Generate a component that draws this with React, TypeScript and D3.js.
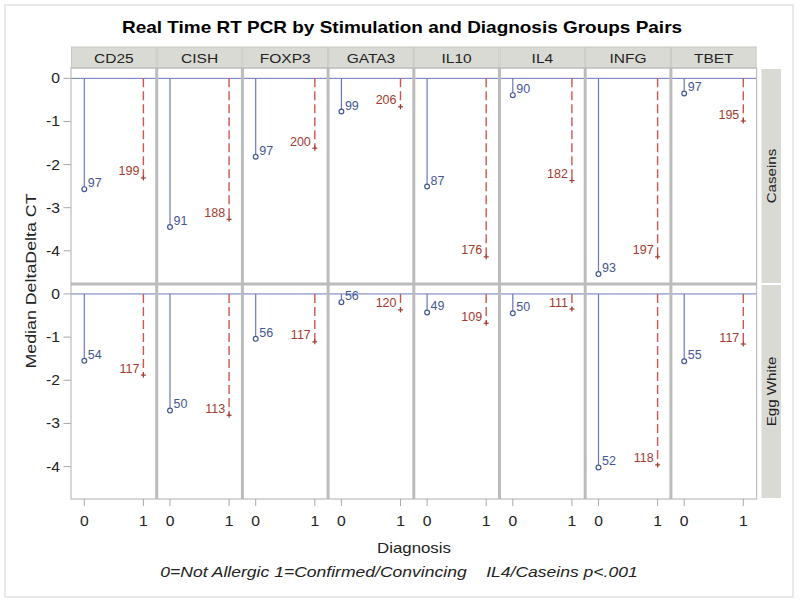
import React from "react";
import * as d3 from "d3";

const genes = ["CD25", "CISH", "FOXP3", "GATA3", "IL10", "IL4", "INFG", "TBET"];
const stimulations = ["Caseins", "Egg White"];
const caseinsNotAllergic = [-2.57, -3.45, -1.82, -0.77, -2.51, -0.39, -4.54, -0.35];
const caseinsAllergic = [-2.31, -3.27, -1.62, -0.66, -4.14, -2.37, -4.14, -0.99];
const caseinsN0 = [97, 91, 97, 99, 87, 90, 93, 97];
const caseinsN1 = [199, 188, 200, 206, 176, 182, 197, 195];
const eggNotAllergic = [-1.55, -2.7, -1.04, -0.19, -0.43, -0.45, -4.02, -1.56];
const eggAllergic = [-1.88, -2.81, -1.11, -0.37, -0.68, -0.35, -3.96, -1.16];
const eggN0 = [54, 50, 56, 56, 49, 50, 52, 55];
const eggN1 = [117, 113, 117, 120, 109, 111, 118, 117];
const yTicks = [0, -1, -2, -3, -4];
const xTicks = [0, 1];

const rowsData = [
  { v0: caseinsNotAllergic, v1: caseinsAllergic, n0: caseinsN0, n1: caseinsN1 },
  { v0: eggNotAllergic, v1: eggAllergic, n0: eggN0, n1: eggN1 },
];

const FONT = "'Liberation Sans', Arial, sans-serif";
const BLUE = "#445694";
const BLUE_LINE = "#6a78b8";
const RED = "#a23a2e";
const RED_LINE = "#d0554f";
const GRID = "#bcbcbc";
const STRIP = "#dadad4";
const TXT = "#222";

function SText(props: {
  x: number;
  y: number;
  sx?: number;
  rot?: number;
  size: number;
  anchor?: string;
  weight?: string;
  italic?: boolean;
  fill?: string;
  children: any;
}) {
  const { x, y, sx = 1.15, rot = 0, size, anchor = "middle", weight, italic, fill = TXT, children } = props;
  return (
    <text
      transform={`translate(${x},${y}) rotate(${rot}) scale(${sx},1)`}
      textAnchor={anchor}
      fontSize={size}
      fontWeight={weight}
      fontStyle={italic ? "italic" : undefined}
      fill={fill}
      style={{ whiteSpace: "pre" }}
    >
      {children}
    </text>
  );
}

export default function App() {
  const left = 71;
  const right = 756.6;
  const colW = (right - left) / genes.length;
  const rowBands = [
    { top: 68, bottom: 284, domain: [0.24, -4.77] },
    { top: 284, bottom: 499, domain: [0.23, -4.75] },
  ];
  const yScales = rowBands.map((r) =>
    d3.scaleLinear().domain(r.domain).range([r.top, r.bottom])
  );
  const colX = (i: number) =>
    d3.scaleLinear().domain([-0.225, 1.225]).range([left + i * colW, left + (i + 1) * colW]);

  const plus = (x: number, y: number, key: string) => (
    <g key={key} stroke={RED} strokeWidth={1.2}>
      <line x1={x - 2.5} x2={x + 2.5} y1={y} y2={y} />
      <line x1={x} x2={x} y1={y - 2.5} y2={y + 2.5} />
    </g>
  );

  return (
    <svg
      width={800}
      height={602}
      style={{ position: "absolute", left: 0, top: 0, background: "#fff" }}
      fontFamily={FONT}
    >
      <rect x={5} y={5} width={788} height={592} fill="#fff" stroke="#d4d4d4" strokeWidth={1} />
      <SText x={402} y={33} size={16.5} weight="bold" fill="#000">
        Real Time RT PCR by Stimulation and Diagnosis Groups Pairs
      </SText>

      {/* column header strips */}
      {genes.map((g, i) => (
        <g key={"h" + g}>
          <rect
            x={left + i * colW + 0.5}
            y={47}
            width={colW - 1}
            height={21}
            fill={STRIP}
            stroke="#c8c8c2"
            strokeWidth={1}
          />
          <SText x={left + (i + 0.5) * colW} y={62.5} size={13.5}>
            {g}
          </SText>
        </g>
      ))}

      {/* row strips */}
      {stimulations.map((s, r) => {
        const b = rowBands[r];
        const cy = (b.top + b.bottom) / 2;
        return (
          <g key={"s" + s}>
            <rect
              x={761.5}
              y={b.top + 1}
              width={19.5}
              height={b.bottom - b.top - 2}
              fill={STRIP}
            />
            <SText x={776} y={cy} rot={-90} size={13.5} sx={1.12}>
              {s}
            </SText>
          </g>
        );
      })}

      {/* panels */}
      {rowsData.map((rd, r) => {
        const y = yScales[r];
        return (
          <g key={"row" + r}>
            {genes.map((g, i) => {
              const x = colX(i);
              const x0 = x(0);
              const x1 = x(1);
              const y0 = y(0);
              const yb = y(rd.v0[i]);
              const yr = y(rd.v1[i]);
              return (
                <g key={"c" + r + g}>
                  <line
                    x1={left + i * colW}
                    x2={left + (i + 1) * colW}
                    y1={y0}
                    y2={y0}
                    stroke={BLUE_LINE}
                    strokeWidth={1}
                  />
                  <line x1={x0} x2={x0} y1={y0} y2={yb} stroke={BLUE_LINE} strokeWidth={1.2} />
                  <circle cx={x0} cy={yb} r={2.4} fill="#fff" stroke={BLUE} strokeWidth={1.2} />
                  <text x={x0 + 3.5} y={yb - 2} fontSize={12.5} fill={BLUE}>
                    {rd.n0[i]}
                  </text>
                  <line
                    x1={x1}
                    x2={x1}
                    y1={y0}
                    y2={yr}
                    stroke={RED_LINE}
                    strokeWidth={1.4}
                    strokeDasharray="9,4"
                  />
                  {plus(x1, yr, "p" + r + g)}
                  <text x={x1 - 4} y={yr - 2.5} fontSize={12.5} fill={RED} textAnchor="end">
                    {rd.n1[i]}
                  </text>
                </g>
              );
            })}
            {/* y axis ticks */}
            {yTicks.map((t) => (
              <g key={"yt" + r + t}>
                <line x1={63.5} x2={71} y1={y(t)} y2={y(t)} stroke="#a8a8a8" />
                <SText x={60} y={y(t) + 5} anchor="end" size={14.5} sx={1.08}>
                  {t}
                </SText>
              </g>
            ))}
          </g>
        );
      })}

      {/* grid frame */}
      <g fill="none">
        <rect x={left} y={68} width={right - left} height={499 - 68} stroke={GRID} strokeWidth={1.2} />
        {genes.slice(1).map((g, i) => (
          <line
            key={"vd" + g}
            x1={left + (i + 1) * colW}
            x2={left + (i + 1) * colW}
            y1={68}
            y2={499}
            stroke={GRID}
            strokeWidth={3}
          />
        ))}
        <line x1={left} x2={right} y1={284} y2={284} stroke={GRID} strokeWidth={3} />
      </g>

      {/* x axis ticks */}
      {genes.map((g, i) => {
        const x = colX(i);
        return (
          <g key={"xt" + g}>
            {xTicks.map((t) => (
              <g key={t}>
                <line x1={x(t)} x2={x(t)} y1={499} y2={506} stroke="#a8a8a8" />
                <SText x={x(t)} y={526} size={14.5} sx={1.08}>
                  {t}
                </SText>
              </g>
            ))}
          </g>
        );
      })}

      <SText x={414} y={552.5} size={14.5} sx={1.16}>
        Diagnosis
      </SText>
      <SText x={399} y={577} size={15} sx={1.17} italic>
        {"0=Not Allergic 1=Confirmed/Convincing    IL4/Caseins p<.001"}
      </SText>
      <SText x={36} y={281} rot={-90} size={15.5} sx={1.15}>
        Median DeltaDelta CT
      </SText>
    </svg>
  );
}
